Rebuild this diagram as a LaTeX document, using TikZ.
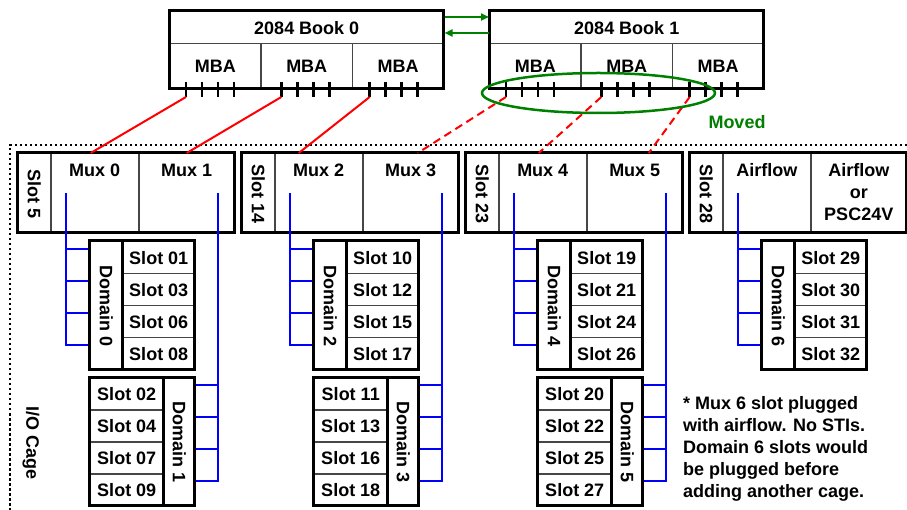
\documentclass[tikz,border=0pt]{standalone}
\usepackage{fontspec}
\setmainfont{Liberation Sans}
\usetikzlibrary{arrows.meta,shapes.geometric}
\definecolor{dgreen}{RGB}{0,128,0}
\definecolor{dgray}{RGB}{70,70,70}
\tikzset{
  txt/.style={font=\bfseries\fontsize{18}{22}\selectfont, inner sep=0pt},
  cell/.style={draw=dgray, line width=1.5pt, inner sep=0pt, anchor=north west},
  frame/.style={draw=black, line width=3pt},
  redwire/.style={draw=red, line width=2pt},
  reddash/.style={redwire, dash pattern=on 8pt off 5pt},
  bluewire/.style={draw=blue, line width=2.2pt},
  grn/.style={draw=dgreen, line width=2.5pt},
  tickmark/.style={draw=black, line width=2.5pt},
  cage/.style={draw=black, line width=2.5pt, dash pattern=on 2.5pt off 2.5pt},
}
\begin{document}
\begin{tikzpicture}[x=1pt,y=-1pt]
\useasboundingbox (0,0) rectangle (907,510);

% I/O cage outline
\draw[cage] (907,145) -- (10,145) -- (10,510);
\node[txt, rotate=-90] (cagelbl) at (31,443) {I/O Cage};

% books
\foreach \b/\X in {0/169,1/489}{
  \node[cell, txt, minimum width=274pt, minimum height=32pt] (book\b) at (\X,11) {2084 Book \b};
  \foreach \s in {0,1,2}{
    \node[cell, txt, minimum width=91.33pt, minimum height=46pt] (mba\b\s) at ({\X+\s*91.33},43) {MBA};
  }
  \draw[frame] (\X,11) rectangle ++(274,78);
  \foreach \s/\o in {0/17,1/21,2/18}{
    \foreach \k in {0,...,3}{
      \draw[tickmark] ({\X+\s*91.33+\o+\k*16},82) -- ++(0,15);
    }
    \coordinate (t\b\s) at ({\X+\s*91.33+\o},97);
  }
}

% green arrows between books
\draw[grn, line width=2pt, -{Triangle[length=8pt,width=7pt]}] ([yshift=-6pt]book0.north east) -- ([yshift=-6pt]book1.north west);
\draw[grn, line width=2pt, -{Triangle[length=8pt,width=7pt]}] ([yshift=-22pt]book1.north west) -- ([yshift=-22pt]book0.north east);

% mux boxes
\foreach \i/\L/\sl/\ma/\mb in {0/17/{Slot 5}/{Mux 0}/{Mux 1}, 1/241/{Slot 14}/{Mux 2}/{Mux 3}, 2/465/{Slot 23}/{Mux 4}/{Mux 5}, 3/689/{Slot 28}/{Airflow}/{Airflow\\or\\PSC24V}}{
  \node[cell, minimum width=33pt, minimum height=80pt] (slot\i) at (\L,153) {};
  \node[txt, rotate=-90] (slotlbl\i) at (slot\i.center) {\sl};
  \node[cell, minimum width=88pt, minimum height=80pt] (muxa\i) at ({\L+33},153) {};
  \node[cell, minimum width=96pt, minimum height=80pt] (muxb\i) at ({\L+121},153) {};
  \node[txt, anchor=north, align=center] (muxalbl\i) at ([yshift=-10.5pt]muxa\i.north) {\ma};
  \node[txt, anchor=north, align=center] (muxblbl\i) at ([yshift=-10.5pt]muxb\i.north) {\mb};
  \draw[frame] (\L,153) rectangle ++(217,80);
}

% upper domain groups
\foreach \i/\L/\d/\sa/\sb/\sc/\sd in {0/17/0/01/03/06/08, 1/241/2/10/12/15/17, 2/465/4/19/21/24/26, 3/689/6/29/30/31/32}{
  \node[cell, minimum width=33pt, minimum height=128pt] (dom\d) at ({\L+72},241) {};
  \node[txt, rotate=-90] (domlbl\d) at (dom\d.center) {Domain \d};
  \foreach \r/\s in {0/\sa,1/\sb,2/\sc,3/\sd}{
    \node[cell, txt, minimum width=72pt, minimum height=32pt] (s\d\r) at ({\L+105},{241+32*\r}) {Slot \s};
    \coordinate (br\d\r) at ({\L+72},{249+32*\r});
  }
  \coordinate (ba\i) at ({\L+49},193);
  \draw[bluewire] (ba\i) |- (br\d3);
  \foreach \r in {0,1,2}{
    \draw[bluewire] (ba\i |- br\d\r) -- (br\d\r);
  }
  \draw[frame] ({\L+72},241) rectangle ++(105,128);
  \draw[frame] ({\L+105},241) -- ++(0,128);
}

% lower domain groups
\foreach \i/\L/\d/\sa/\sb/\sc/\sd in {0/17/1/02/04/07/09, 1/241/3/11/13/16/18, 2/465/5/20/22/25/27}{
  \node[cell, minimum width=31pt, minimum height=128pt] (dom\d) at ({\L+146},377) {};
  \node[txt, rotate=-90] (domlbl\d) at (dom\d.center) {Domain \d};
  \foreach \r/\s in {0/\sa,1/\sb,2/\sc,3/\sd}{
    \node[cell, txt, minimum width=74pt, minimum height=32pt] (s\d\r) at ({\L+72},{377+32*\r}) {Slot \s};
    \coordinate (bc\d\r) at ({\L+177},{385+32*\r});
  }
  \coordinate (bb\i) at ({\L+201},193);
  \draw[bluewire] (bb\i) |- (bc\d3);
  \foreach \r in {0,1,2}{
    \draw[bluewire] (bb\i |- bc\d\r) -- (bc\d\r);
  }
  \draw[frame] ({\L+72},377) rectangle ++(105,128);
  \draw[frame] ({\L+146},377) -- ++(0,128);
}

% red links book MBAs -> muxes
\draw[redwire] (t00) -- ([xshift=-4pt]muxa0.north);
\draw[redwire] (t01) -- (muxb0.north);
\draw[redwire] (t02) -- ([xshift=-20pt]muxa1.north);
\draw[reddash] (t10) -- ([xshift=7pt]muxb1.north);
\draw[reddash] (t11) -- ([xshift=-4pt]muxa2.north);
\draw[reddash] (t12) -- ([xshift=14pt]muxb2.north);

% moved marker
\node[grn, ellipse, minimum width=233pt, minimum height=40pt, inner sep=0pt] (moved) at (598.5,93) {};
\node[txt, text=dgreen] (movedlbl) at (737,122) {Moved};

% note
\node[txt, anchor=north west, align=left] (note) at (683,396) {* Mux 6 slot plugged\\with airflow. No STIs.\\Domain 6 slots would\\be plugged before\\adding another cage.};
\end{tikzpicture}
\end{document}
